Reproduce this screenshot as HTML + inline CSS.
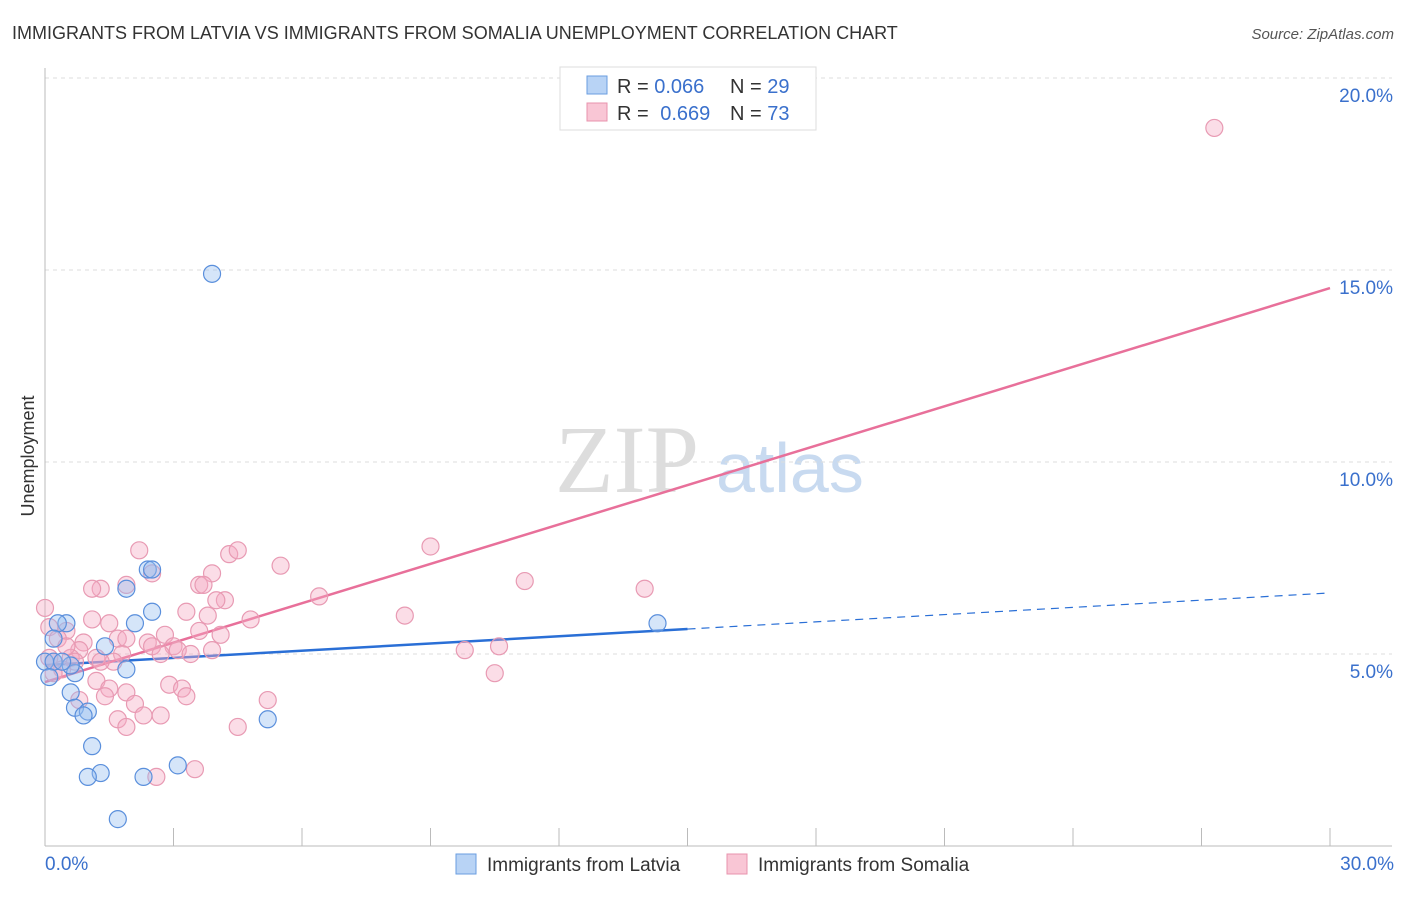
<!DOCTYPE html>
<html><head><meta charset="utf-8"><style>
body{margin:0;background:#fff;font-family:"Liberation Sans",sans-serif;}
</style></head><body>
<svg id="chart" width="1406" height="892" xmlns="http://www.w3.org/2000/svg">
<text x="12" y="39" font-size="18" fill="#333">IMMIGRANTS FROM LATVIA VS IMMIGRANTS FROM SOMALIA UNEMPLOYMENT CORRELATION CHART</text>
<text x="1394" y="39" font-size="15" fill="#555" font-style="italic" text-anchor="end">Source: ZipAtlas.com</text>
<text x="34" y="456" font-size="18" fill="#333" text-anchor="middle" transform="rotate(-90 34 456)">Unemployment</text>
<text x="555" y="492" font-size="96" fill="#ddd" font-family="Liberation Serif,serif">ZIP</text>
<text x="716" y="492" font-size="70" fill="#c8daf0">atlas</text>
<g id="grid"></g><g id="axes"></g><g id="lines"></g><g id="pts"></g>
<g>
<rect x="560" y="67" width="256" height="63" fill="#fff" stroke="#ddd"/>
<rect x="587" y="76" width="20" height="18" fill="#b8d3f5" stroke="#6a9ee0"/>
<rect x="587" y="103" width="20" height="18" fill="#f9c6d5" stroke="#e893ad"/>
<text x="617" y="93" font-size="20" fill="#333">R = <tspan fill="#3a70cc">0.066</tspan></text>
<text x="730" y="93" font-size="20" fill="#333">N = <tspan fill="#3a70cc">29</tspan></text>
<text x="617" y="120" font-size="20" fill="#333">R = <tspan fill="#3a70cc" dx="6">0.669</tspan></text>
<text x="730" y="120" font-size="20" fill="#333">N = <tspan fill="#3a70cc">73</tspan></text>
</g>
<g>
<rect x="456" y="854" width="20" height="20" fill="#b8d3f5" stroke="#6a9ee0"/>
<text x="487" y="871" font-size="19" fill="#333">Immigrants from Latvia</text>
<rect x="727" y="854" width="20" height="20" fill="#f9c6d5" stroke="#e893ad"/>
<text x="758" y="871" font-size="19" fill="#333">Immigrants from Somalia</text>
</g>
</svg>
<script>
const xTicks=[0,30];
const yTicks=[5,10,15,20];
const blueX=[3.9,2.4,2.5,1.9,2.5,2.1,0.5,0.3,0.2,1.4,1.9,0.7,0.0,0.2,0.6,0.4,0.6,0.7,1.0,0.9,1.1,1.3,1.0,2.3,3.1,5.2,1.7,14.3,0.1];
const blueY=[14.9,7.2,7.2,6.7,6.1,5.8,5.8,5.8,5.4,5.2,4.6,4.5,4.8,4.8,4.7,4.8,4.0,3.6,3.5,3.4,2.6,1.9,1.8,1.8,2.1,3.3,0.7,5.8,4.4];
const pinkX=[2.2,2.5,1.9,1.3,1.1,4.3,4.5,5.5,3.9,3.6,3.7,4.2,4.0,6.4,3.3,1.1,3.8,4.8,3.6,4.1,2.8,1.7,1.9,0.9,2.4,3.0,2.5,3.1,2.7,3.4,3.9,0.8,1.8,1.2,0.6,0.2,0.7,1.6,1.3,0.4,0.2,1.2,1.5,1.4,1.9,2.9,3.2,3.3,2.1,2.3,2.7,1.7,1.9,4.5,2.6,3.5,5.2,9.0,11.2,14.0,8.4,9.8,10.6,10.5,27.3,0.0,0.1,0.5,0.8,1.5,0.3,0.5,0.1];
const pinkY=[7.7,7.1,6.8,6.7,6.7,7.6,7.7,7.3,7.1,6.8,6.8,6.4,6.4,6.5,6.1,5.9,6.0,5.9,5.6,5.5,5.5,5.4,5.4,5.3,5.3,5.2,5.2,5.1,5.0,5.0,5.1,5.1,5.0,4.9,4.9,4.8,4.8,4.8,4.8,4.6,4.5,4.3,4.1,3.9,4.0,4.2,4.1,3.9,3.7,3.4,3.4,3.3,3.1,3.1,1.8,2.0,3.8,7.8,6.9,6.7,6.0,5.1,5.2,4.5,18.7,6.2,5.7,5.6,3.8,5.8,5.4,5.2,4.9];
const blueFit=[4.71,6.59], blueSolidEnd=15, pinkFit=[4.27,14.53];
const X=v=>45+v/30*1285, Y=v=>846-v*38.4;
const NS='http://www.w3.org/2000/svg';
function mk(p,t,a){const e=document.createElementNS(NS,t);for(const k in a)e.setAttribute(k,a[k]);document.getElementById(p).appendChild(e);return e;}
yTicks.forEach(t=>{
 const l=mk('grid','line',{x1:45,x2:1392,y1:Y(t),y2:Y(t),stroke:'#ddd','stroke-dasharray':'4,4'});
 
 
 const tx=mk('grid','text',{x:1393,y:Y(t)+24,'font-size':19,fill:'#3a70cc','text-anchor':'end'});
 tx.textContent=t.toFixed(1)+'%';
 
 
});
const ax=mk('axes','line',{x1:45,x2:1392,y1:846,y2:846,stroke:'#bbb'});


const ay=mk('axes','line',{x1:45,x2:45,y1:68,y2:846,stroke:'#bbb'});


for(let i=1;i<=10;i++){const t=mk('axes','line',{x1:X(i*3),x2:X(i*3),y1:828,y2:846,stroke:'#bbb'});
 
 }
xTicks.forEach((t,i)=>{const tx=mk('axes','text',{x:i?1394:45,y:870,'font-size':19,fill:'#3a70cc','text-anchor':i?'end':'start'});
 tx.textContent=t.toFixed(1)+'%';
 
 });
const fy=(f,x)=>f[0]+(f[1]-f[0])*x/30;
const b1=mk('lines','line',{x1:X(0),y1:Y(fy(blueFit,0)),x2:X(blueSolidEnd),y2:Y(fy(blueFit,blueSolidEnd)),stroke:'#2a6fd6','stroke-width':2.5});


const b2=mk('lines','line',{x1:X(blueSolidEnd),y1:Y(fy(blueFit,blueSolidEnd)),x2:X(30),y2:Y(fy(blueFit,30)),stroke:'#2a6fd6','stroke-width':1.2,'stroke-dasharray':'8,6'});


const p1=mk('lines','line',{x1:X(0),y1:Y(fy(pinkFit,0)),x2:X(30),y2:Y(fy(pinkFit,30)),stroke:'#e8709a','stroke-width':2.5});


pinkX.forEach((x,i)=>{const c=mk('pts','circle',{cx:X(x),cy:Y(pinkY[i]),r:8.5,fill:'rgba(246,170,195,0.4)',stroke:'#e89ab3','stroke-width':1.2});
 
 });
blueX.forEach((x,i)=>{const c=mk('pts','circle',{cx:X(x),cy:Y(blueY[i]),r:8.5,fill:'rgba(150,190,240,0.4)',stroke:'#5a8fdc','stroke-width':1.2});
 
 });
</script>
</body></html>
